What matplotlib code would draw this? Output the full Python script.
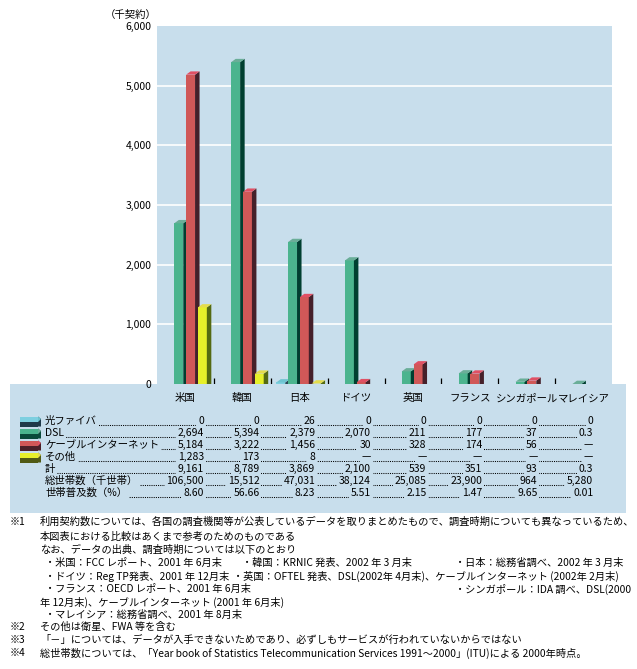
import matplotlib
matplotlib.use('Agg')
import matplotlib.pyplot as plt
from matplotlib.patches import Polygon, Rectangle

plt.rcParams['font.family'] = ['Noto Sans CJK JP', 'DejaVu Sans']

# ---------------- data ----------------
categories = ['米国', '韓国', '日本', 'ドイツ', '英国', 'フランス', 'シンガポール', 'マレイシア']
series_names = ['光ファイバ', 'DSL', 'ケーブルインターネット', 'その他']
fiber = [0, 0, 26, 0, 0, 0, 0, 0]
dsl = [2694, 5394, 2379, 2070, 211, 177, 37, 0.3]
cable = [5184, 3222, 1456, 30, 328, 174, 56, None]
other = [1283, 173, 8, None, None, None, None, None]
total = [9161, 8789, 3869, 2100, 539, 351, 93, 0.3]
households = [106500, 15512, 47031, 38124, 25085, 23900, 964, 5280]
penetration = [8.60, 56.66, 8.23, 5.51, 2.15, 1.47, 9.65, 0.01]
extra_row_names = ['計', '総世帯数（千世帯）', '世帯普及数（%）']
y_ticks = [0, 1000, 2000, 3000, 4000, 5000, 6000]
y_unit = '（千契約）'

# ---------------- style ----------------
W, H = 637, 669
BG = '#C8DEEC'
front_c = ['#7ECFE0', '#4BB48E', '#D05858', '#E6F02A']
side_c = ['#2A4858', '#003F30', '#45202A', '#546A12']
top_c = ['#6EC4D0', '#6AAE98', '#E05064', '#E4DC4C']
leg_dark = ['#1F3A4A', '#0A4A3A', '#4A2028', '#505A14']

fig = plt.figure(figsize=(W / 100, H / 100), dpi=100)
fig.patch.set_facecolor('white')

# overlay in pixel coordinates
ov = fig.add_axes([0, 0, 1, 1], zorder=0)
ov.set_xlim(0, W)
ov.set_ylim(H, 0)
ov.axis('off')

# main plot axes
px_l, px_r, px_t, px_b = 157, 612, 26, 384
ax = fig.add_axes([px_l / W, 1 - px_b / H, (px_r - px_l) / W, (px_b - px_t) / H], zorder=1)
ax.set_facecolor(BG)
for s in ax.spines.values():
    s.set_visible(False)
ymax = y_ticks[-1]
ax.set_ylim(0, ymax)
n = len(categories)
ax.set_xlim(0, n)

for t in y_ticks[1:-1]:
    ax.axhline(t, color='white', lw=1.2, zorder=1)

ax.set_yticks(y_ticks)
ax.set_yticklabels([f'{t:,}' for t in y_ticks], fontsize=7.5)
ax.set_xticks([i + 0.5 for i in range(n)])
ax.set_xticklabels(categories, fontsize=7.5)
ax.tick_params(axis='both', length=0)
ax.tick_params(axis='y', pad=4)
ax.tick_params(axis='x', pad=6.5)

# group separators
ax.vlines(range(1, n), 0, 100, color='black', lw=0.9, zorder=2)

# 3D bars
series = [fiber, dsl, cable, other]
off0, pitch, bw = 0.097, 0.207, 0.158
dx = 4.5 / (px_r - px_l) * n
dy = 3.3 / (px_b - px_t) * ymax
for j, vals in enumerate(series):
    for i, v in enumerate(vals):
        if v is None or v <= 0:
            continue
        xl = i + off0 + j * pitch
        xr = xl + bw
        z = 3 + j
        ax.add_patch(Rectangle((xl, 0), bw, v, fc=front_c[j], ec='none', zorder=z))
        ax.add_patch(Polygon([(xr, 0), (xr, v), (xr + dx, v + dy), (xr + dx, 0)],
                             closed=True, fc=side_c[j], ec='none', zorder=z))
        ax.add_patch(Polygon([(xl, v), (xr, v), (xr + dx, v + dy), (xl + dx, v + dy)],
                             closed=True, fc=top_c[j], ec='none', zorder=z))

# unit label
ov.text(157, 15, y_unit, fontsize=7.5, ha='right', va='center')

# lower panel
ov.add_patch(Rectangle((10, 384), 616, 129, fc=BG, ec='none', zorder=0))


def fmt(v):
    if v is None:
        return '—'
    if float(v).is_integer():
        return f'{int(v):,}'
    return str(v)


rows = [[fmt(v) for v in s] for s in series]
rows.append([fmt(v) for v in total])
rows.append([fmt(v) for v in households])
rows.append([f'{v:.2f}' for v in penetration])
row_names = series_names + extra_row_names

row_y = [421, 433, 445, 457, 469, 481, 493]
col_r = [204 + 55.6 * k for k in range(n)]
mask = dict(boxstyle='square,pad=0.18', fc=BG, ec='none')
for r, (name, vals) in enumerate(zip(row_names, rows)):
    y = row_y[r]
    ov.plot([46, col_r[-1] - 2], [y + 3.5, y + 3.5], color='black', lw=0.75,
            linestyle=(0, (1, 1.1)), zorder=1)
    ov.text(45, y, name, fontsize=7.5, ha='left', va='center', bbox=mask, zorder=2)
    for k, s in enumerate(vals):
        ov.text(col_r[k], y, s, fontsize=7.5, ha='right', va='center', bbox=mask, zorder=2)

# legend swatches
for j in range(4):
    yc = row_y[j]
    y0 = yc - 4.5
    ov.add_patch(Rectangle((20, y0), 18, 5.5, fc=front_c[j], ec='none', zorder=2))
    ov.add_patch(Rectangle((20, y0 + 5.5), 18, 4.5, fc=leg_dark[j], ec='none', zorder=2))
    ov.add_patch(Polygon([(38, y0), (41, y0 + 2.5), (41, y0 + 10), (38, y0 + 10)], closed=True,
                         fc=leg_dark[j], ec='none', zorder=2))
    ov.add_patch(Polygon([(38, y0), (41, y0 + 2.5), (38, y0 + 5.5)], closed=True,
                         fc=top_c[j], ec='none', zorder=2))

# footnotes
fs = 7.35
notes = [
    (10, 522, '※1'),
    (40, 522, '利用契約数については、各国の調査機関等が公表しているデータを取りまとめたもので、調査時期についても異なっているため、'),
    (40, 537, '本図表における比較はあくまで参考のためのものである'),
    (40, 550, 'なお、データの出典、調査時期については以下のとおり'),
    (45, 563, '・米国：FCC レポート、2001 年 6月末'),
    (242, 563, '・韓国：KRNIC 発表、2002 年 3 月末'),
    (455, 563, '・日本：総務省調べ、2002 年 3 月末'),
    (45, 576, '・ドイツ：Reg TP発表、2001 年 12月末'),
    (233, 576, '・英国：OFTEL 発表、DSL(2002年 4月末)、ケーブルインターネット (2002年 2月末)'),
    (45, 589, '・フランス：OECD レポート、2001 年 6月末'),
    (455, 589, '・シンガポール：IDA 調べ、DSL(2000'),
    (40, 602, '年 12月末)、ケーブルインターネット (2001 年 6月末)'),
    (45, 615, '・マレイシア：総務省調べ、2001 年 8月末'),
    (10, 627, '※2'),
    (40, 627, 'その他は衛星、FWA 等を含む'),
    (10, 640, '※3'),
    (40, 640, '「－」については、データが入手できないためであり、必ずしもサービスが行われていないからではない'),
    (10, 653, '※4'),
    (40, 653, '総世帯数については、「Year book of Statistics Telecommunication Services 1991～2000」(ITU)による 2000年時点。'),
]
for x, y, s in notes:
    ov.text(x, y, s, fontsize=fs, ha='left', va='center')

fig.savefig('out.png', dpi=100, facecolor='white')
